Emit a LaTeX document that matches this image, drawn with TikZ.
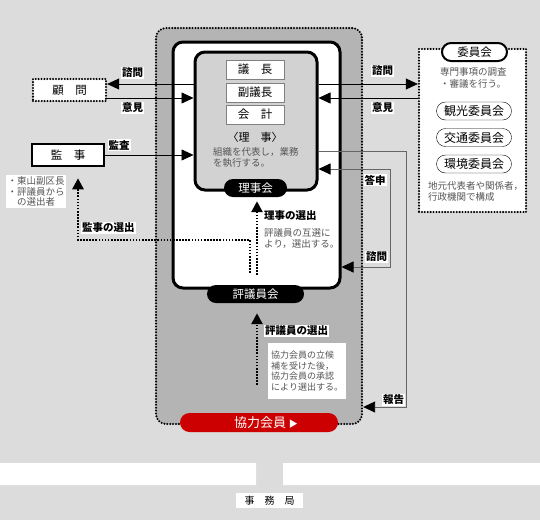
\documentclass[tikz,border=0pt]{standalone}
\usepackage{fontspec}
\setmainfont{Noto Sans CJK JP}
\usetikzlibrary{arrows.meta}
\definecolor{bggray}{RGB}{220,220,220}
\definecolor{areagray}{RGB}{180,180,180}
\definecolor{rijigray}{RGB}{210,210,210}
\definecolor{kyored}{RGB}{204,0,0}
\definecolor{notegray}{RGB}{85,85,85}

\begin{document}
\begin{tikzpicture}[x=1pt, y=-1pt,
        dotborder/.style={line width=2.3pt, dash pattern=on 0pt off 2.9pt, line cap=round},
        dotarrow/.style={line width=2.6pt, dash pattern=on 1.6pt off 1.5pt, -{Triangle[length=11pt,width=11pt]}},
        thinarrow/.style={line width=0.7pt, -{Triangle[length=12pt,width=11pt]}},
        grayarrow/.style={line width=0.9pt, draw=black!60, -{Triangle[length=12pt,width=11pt,color=black]}},
        grayboth/.style={line width=0.9pt, draw=black!60, {Triangle[length=12pt,width=11pt,color=black]}-{Triangle[length=12pt,width=11pt,color=black]}},
        linklabel/.style={fill=white, inner sep=1pt, font=\fontsize{10.5}{12}\selectfont\bfseries},
        postbox/.style={draw=black!50, fill=white, minimum width=58pt, minimum height=19pt, inner sep=0pt, font=\fontsize{11.5}{12}\selectfont},
        blackpill/.style={fill=black, text=white, rounded corners=9pt, minimum height=18pt, inner sep=0pt, font=\fontsize{11.5}{12}\selectfont},
        iinpill/.style={draw, fill=white, rounded corners=9pt, minimum width=75pt, minimum height=18pt, inner sep=0pt, font=\fontsize{12}{12}\selectfont},
        note/.style={text=notegray, align=left, inner sep=0pt, font=\fontsize{9.5}{11.5}\selectfont}]

    % background and office band
    \useasboundingbox (0,0) rectangle (540,520);
    \fill [bggray] (0,0) rectangle (540,520);
    \fill [white] (0,463) rectangle (256,485) (283,463) rectangle (540,485);
    \node [fill=white, minimum width=67pt, minimum height=15pt, inner sep=0pt, font=\fontsize{10}{12}\selectfont] (jimukyoku) at (269.5,500.5) {事\quad 務\quad 局};

    % frames
    \node [draw, dotborder, fill=areagray, rounded corners=10pt, minimum width=206pt, minimum height=396pt] (kyoryokuarea) at (259,226) {};
    \node [draw, line width=3pt, fill=white, rounded corners=10pt, minimum width=167pt, minimum height=246pt] (hyogiframe) at (256.5,165) {};
    \node [draw, line width=3pt, fill=rijigray, rounded corners=10pt, minimum width=122pt, minimum height=138pt] (rijiframe) at (256,121) {};

    \node [fill=kyored, text=white, rounded corners=9.5pt, minimum width=158pt, minimum height=19pt, inner sep=0pt, font=\fontsize{13}{14}\selectfont] (kyoryoku) at (259,422.5) {\hspace*{14pt}協力会員\ {\fontsize{9}{9}\selectfont ▶}};
    \node [blackpill, minimum width=97pt] (hyogiinkai) at (255.5,294) {評議員会};
    \node [blackpill, minimum width=63pt] (rijikai) at (255.5,188) {理事会};

    % officers
    \node [postbox] (gicho) at (255,69.5) {議\quad 長};
    \node [postbox] (fukugicho) at (255,92.5) {副議長};
    \node [postbox] (kaikei) at (255,114.5) {会\quad 計};
    \node [font=\fontsize{11}{12}\selectfont, inner sep=0pt] (riji) at (255,137) {〈理\quad 事〉};
    \node [note, anchor=north west] (rijinote) at (213,147) {組織を代表し，業務\\を執行する。};

    % left side
    \node [draw, dotborder, fill=white, minimum width=73pt, minimum height=22pt, inner sep=0pt, font=\fontsize{11.5}{12}\selectfont] (komon) at (69.5,90) {顧\quad 問};
    \node [draw, line width=2.5pt, fill=white, minimum width=72pt, minimum height=22pt, inner sep=0pt, font=\fontsize{11.5}{12}\selectfont] (kanji) at (68,155) {監\quad 事};
    \node [note, fill=white, inner sep=1.5pt, anchor=north west, font=\fontsize{9.5}{10.5}\selectfont] (kanjinote) at (6,175) {・東山副区長\\・評議員から\\　の選出者};

    % right side
    \node [draw, dotborder, fill=white, minimum width=107pt, minimum height=163pt] (iinbox) at (472.5,130.5) {};
    \node [draw, line width=2pt, fill=white, rounded corners=9pt, minimum width=65pt, minimum height=18pt, inner sep=0pt, font=\fontsize{11.5}{12}\selectfont] (iinkai) at (474.5,52) {委員会};
    \node [note, anchor=north west, font=\fontsize{9.5}{12}\selectfont] (iinnote) at (440,67) {専門事項の調査\\・審議を行う。};
    \node [iinpill] (kanko) at (474,111) {観光委員会};
    \node [iinpill] (kotsu) at (474,137.5) {交通委員会};
    \node [iinpill] (kankyo) at (474,164) {環境委員会};
    \node [note, anchor=north west, font=\fontsize{9.5}{11}\selectfont] (iinmember) at (428,181) {地元代表者や関係者，\\行政機関で構成};

    % consultation arrows
    \coordinate (shimon) at (0,84);
    \coordinate (iken) at (0,98);
    \draw [thinarrow] (rijiframe.west |- shimon) -- (komon.east |- shimon);
    \draw [thinarrow] (komon.east |- iken) -- (rijiframe.west |- iken);
    \draw [thinarrow] (kanji.east) -- (rijiframe.west |- kanji.east);
    \draw [thinarrow] (rijiframe.east |- shimon) -- (iinbox.west |- shimon);
    \draw [thinarrow] (iinbox.west |- iken) -- (rijiframe.east |- iken);
    \node [linklabel] at (132.5,73) {諮問};
    \node [linklabel] at (132.5,108) {意見};
    \node [linklabel] at (119,145) {監査};
    \node [linklabel] at (382.5,71) {諮問};
    \node [linklabel] at (382.5,108) {意見};

    % report lines
    \coordinate (hokokutop) at (406,151);
    \coordinate (hokokubot) at (406,407);
    \draw [grayarrow] (rijiframe.east |- hokokutop) -- (hokokutop) -- (hokokubot) -- (kyoryokuarea.east |- hokokubot);
    \coordinate (toshintop) at (390,169);
    \coordinate (toshinbot) at (390,267);
    \draw [grayboth] (rijiframe.east |- toshintop) -- (toshintop) -- (toshinbot) -- (hyogiframe.east |- toshinbot);
    \node [linklabel] at (375,180) {答申};
    \node [linklabel] at (376.5,257) {諮問};
    \node [linklabel] at (393.5,400) {報告};

    % elections
    \coordinate (kanjitip) at ([xshift=10pt,yshift=-11pt]kanji.south);
    \coordinate (kanjibase) at (250,273);
    \draw [dotarrow] (kanjibase) -- (250,240) -| (kanjitip);
    \node [linklabel, anchor=west] at (81,228) {監事の選出};
    \coordinate (rijibase) at (257,275);
    \coordinate (rijitip) at ([yshift=-4pt]rijikai.south);
    \draw [dotarrow] (rijibase) -- (rijibase |- rijitip);
    \node [linklabel, fill=none, anchor=west] at (263,216) {理事の選出};
    \node [note, anchor=north west, font=\fontsize{9.5}{11}\selectfont] (rijisel) at (264,228) {評議員の互選に\\より，選出する。};
    \coordinate (hyogibase) at (257,385);
    \coordinate (hyogitip) at ([yshift=-10pt]hyogiinkai.south);
    \draw [dotarrow] (hyogibase) -- (hyogibase |- hyogitip);
    \node [linklabel, anchor=west] at (264,331) {評議員の選出};
    \node [note, fill=white, anchor=north west, inner xsep=3pt, inner ysep=5pt, minimum height=56pt, font=\fontsize{9}{10.5}\selectfont] (hyogisel) at (268,343) {協力会員の立候\\補を受けた後，\\協力会員の承認\\により選出する。};
\end{tikzpicture}
\end{document}
